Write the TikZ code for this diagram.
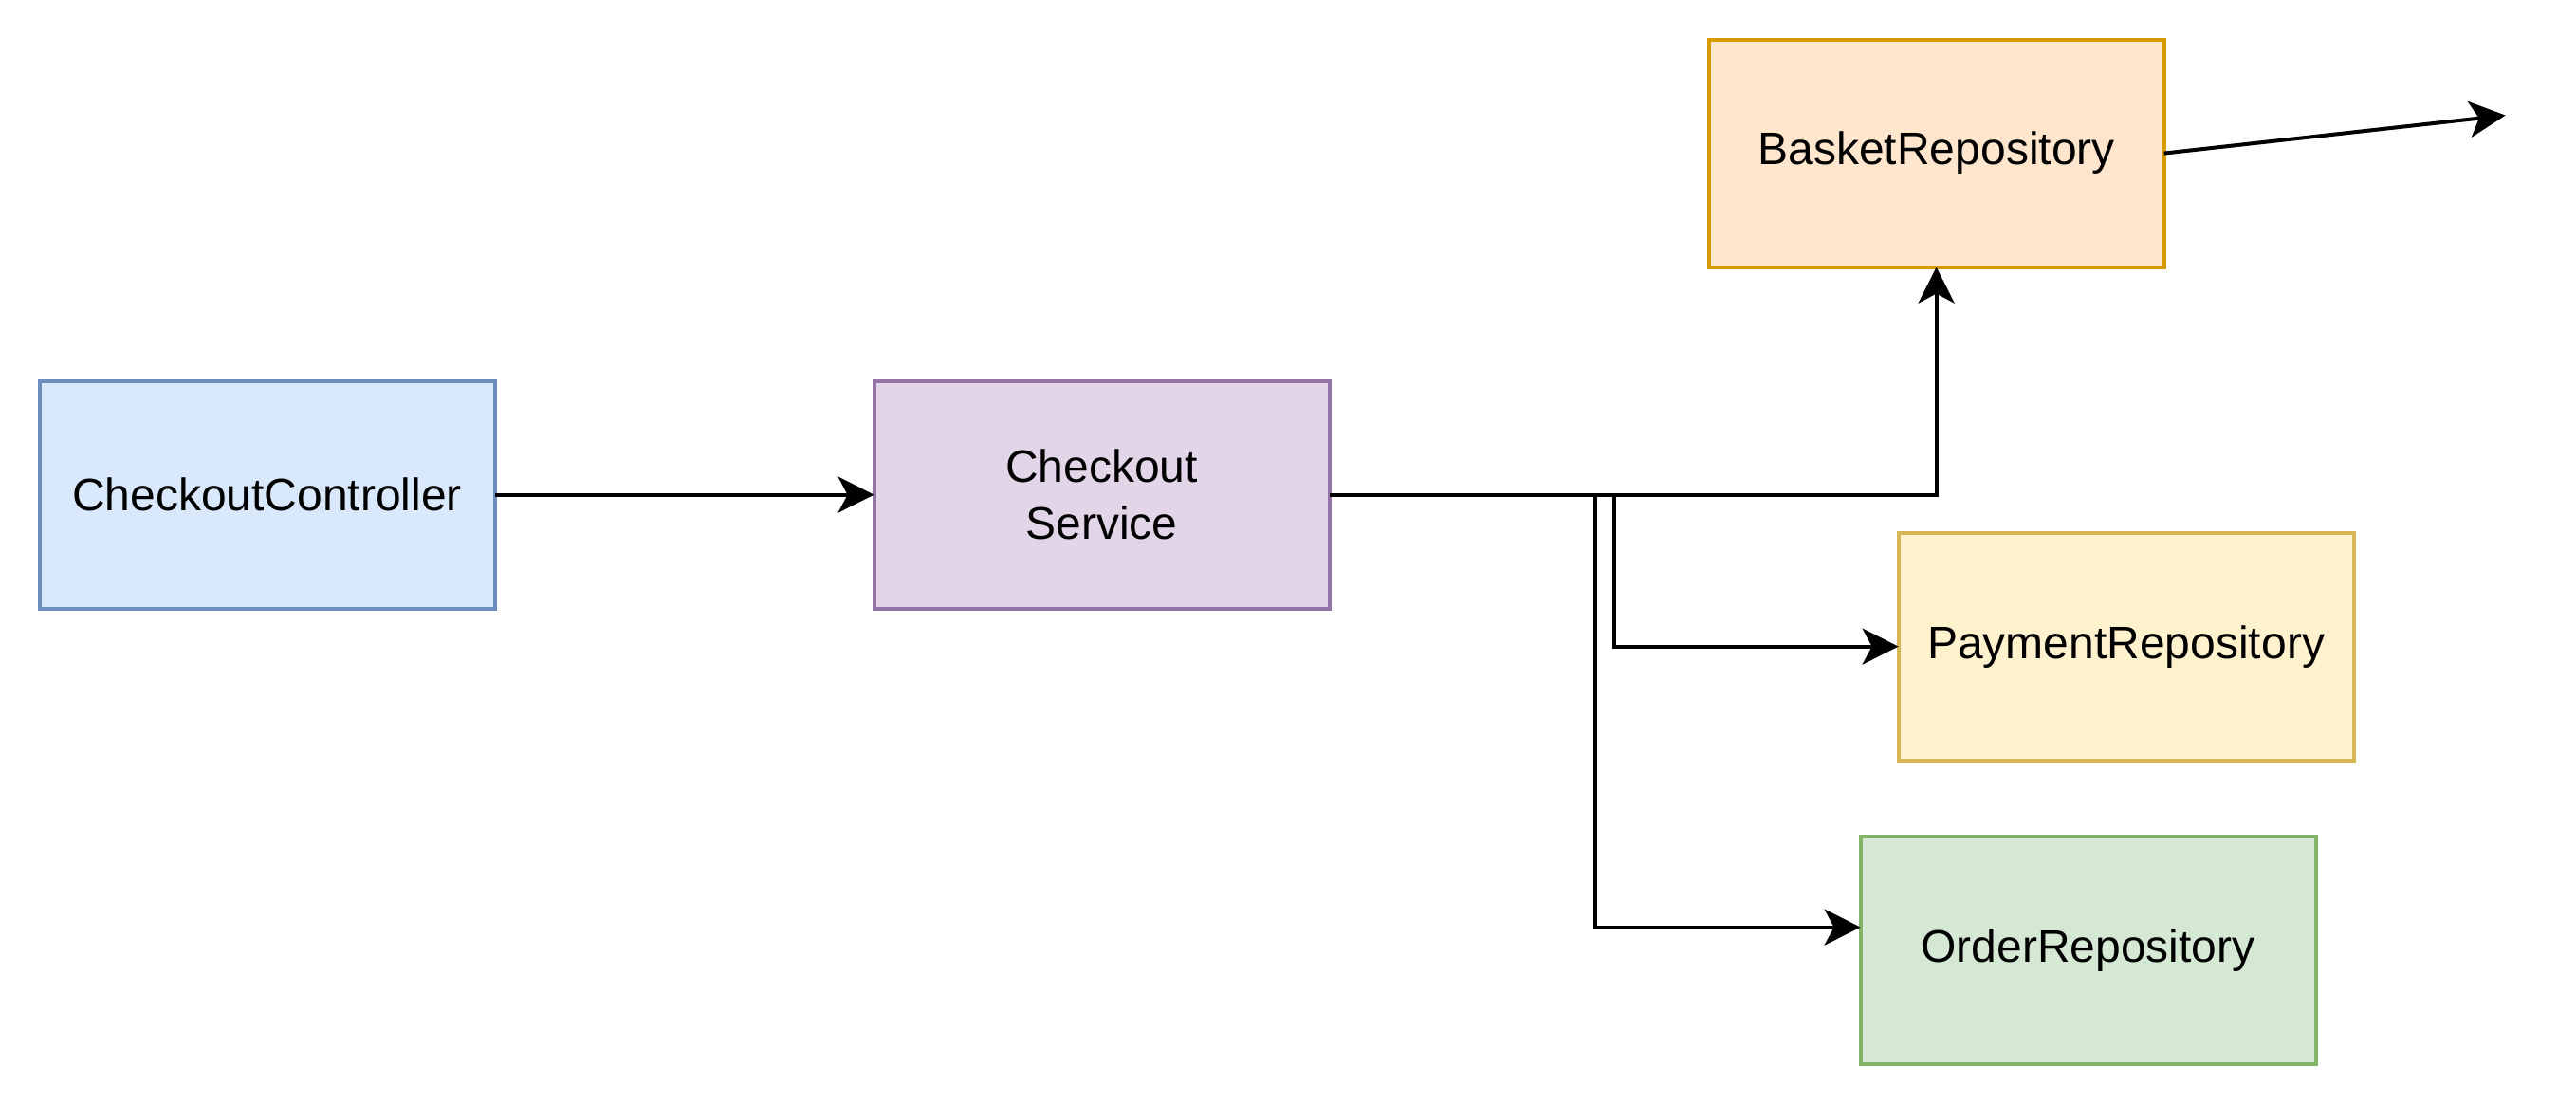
\documentclass[tikz,border=0pt]{standalone}
\usepackage{fontspec}
\setmainfont{Liberation Sans}
\usetikzlibrary{arrows.meta}
\definecolor{blueF}{HTML}{DAE8FC}\definecolor{blueD}{HTML}{6C8EBF}
\definecolor{purF}{HTML}{E1D5E7}\definecolor{purD}{HTML}{9673A6}
\definecolor{oraF}{HTML}{FFE6CC}\definecolor{oraD}{HTML}{D79B00}
\definecolor{yelF}{HTML}{FFF2CC}\definecolor{yelD}{HTML}{D6B656}
\definecolor{greF}{HTML}{D5E8D4}\definecolor{greD}{HTML}{82B366}
\tikzset{
  box/.style={draw, line width=1pt, minimum width=120pt, minimum height=60pt,
    inner sep=0pt, outer sep=0pt, align=center,
    font=\fontsize{12}{15}\selectfont},
  arr/.style={line width=1pt, -{Stealth[length=9.5pt,width=9.5pt,inset=2.5pt]}}
}
\begin{document}
\begin{tikzpicture}[x=1pt,y=-1pt]
\fill[white] (-0.4,-0.4) rectangle (678.6,290.6);
\useasboundingbox (-0.4,-0.4) rectangle (678.6,290.6);
\node[box, fill=blueF, draw=blueD] (ctl) at (70,130) {CheckoutController};
\node[box, fill=purF, draw=purD] (svc) at (290,130) {Checkout\\Service};
\node[box, fill=oraF, draw=oraD] (bsk) at (510,40) {BasketRepository};
\node[box, fill=yelF, draw=yelD] (pay) at (560,170) {PaymentRepository};
\node[box, fill=greF, draw=greD] (ord) at (550,250) {OrderRepository};
\coordinate (fe) at (660,30);
\draw[arr] (ctl.east) -- (svc.west);
\draw[arr] (svc.east) -| (bsk.south);
\draw[arr] (svc.east) -- ++(75,0) |- (pay.west);
\draw[arr] (svc.east) -- ++(70,0) |- ([yshift=6pt]ord.west);
\draw[arr] (bsk.east) -- (fe);
\end{tikzpicture}
\end{document}
